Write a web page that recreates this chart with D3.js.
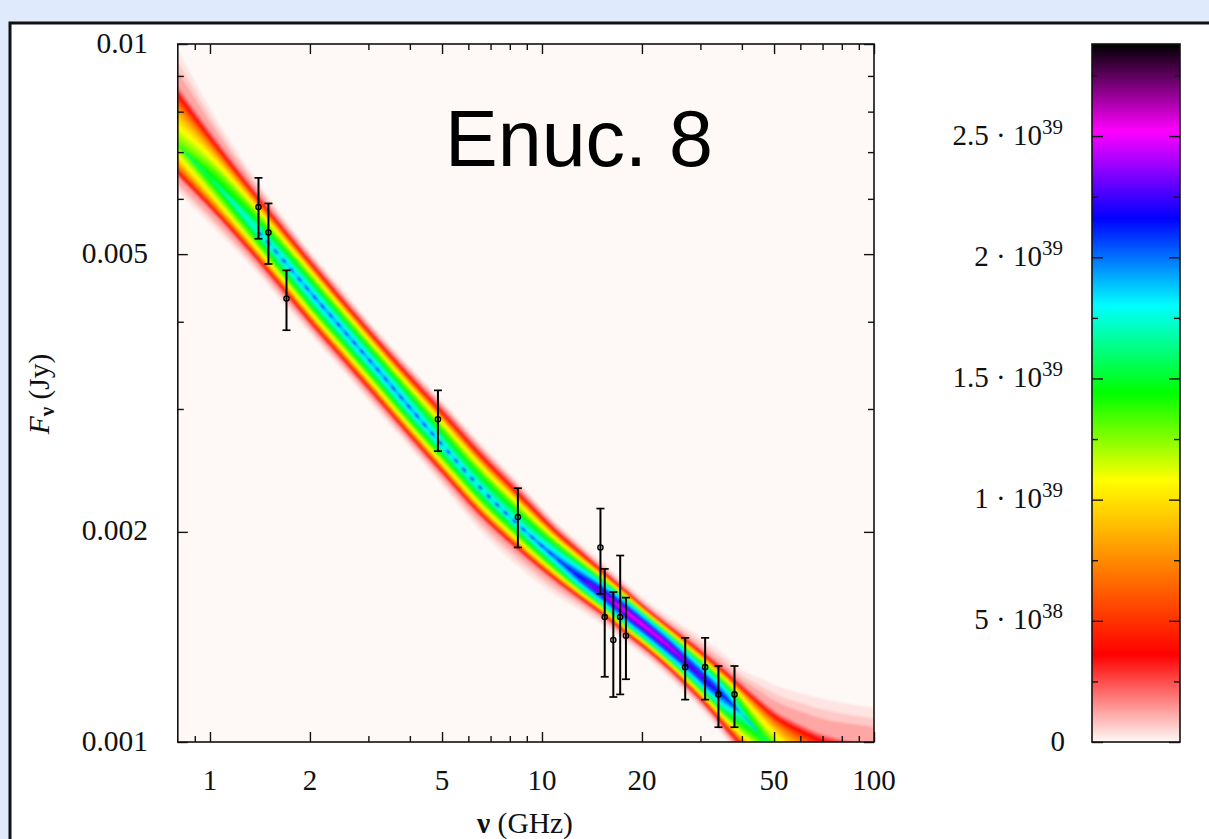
<!DOCTYPE html>
<html><head><meta charset="utf-8">
<script src="https://cdnjs.cloudflare.com/ajax/libs/d3/7.8.5/d3.min.js"></script>
<style>
html,body{margin:0;padding:0;background:#dfeafc;overflow:hidden}
svg{display:block}
text{font-family:"Liberation Serif",serif;fill:#111}
</style></head><body><svg id="c" width="1209" height="839"></svg>
<script>
// Measured spectra with error bars (GHz, Jy)
const obsNu   = [1.4,1.5,1.7,4.86,8.46,15.0,15.45,16.4,17.2,17.9,27.0,31.0,34.0,38.0];
const obsFlux = [5.84e-3,5.37e-3,4.32e-3,2.90e-3,2.10e-3,1.90e-3,1.51e-3,1.40e-3,1.51e-3,1.42e-3,1.28e-3,1.28e-3,1.17e-3,1.17e-3];
const obsHigh = [6.43e-3,5.91e-3,4.74e-3,3.19e-3,2.31e-3,2.16e-3,1.77e-3,1.64e-3,1.85e-3,1.61e-3,1.41e-3,1.41e-3,1.285e-3,1.285e-3];
const obsLow  = [5.26e-3,4.84e-3,3.89e-3,2.61e-3,1.90e-3,1.63e-3,1.24e-3,1.16e-3,1.17e-3,1.23e-3,1.15e-3,1.15e-3,1.05e-3,1.05e-3];

// Density band, log10(Jy) at each frequency
const bandNu = [0.8,1,1.4,1.7,2,2.5,3,4,5,6.5,8.5,11,13,15,18,20,24,28,32,36,40,45,50,60,70,85,100];
const bandFaintTop = [-2.009,-2.092,-2.199,-2.254,-2.297,-2.351,-2.396,-2.462,-2.511,-2.571,-2.628,-2.684,-2.715,-2.740,-2.773,-2.792,-2.820,-2.840,-2.858,-2.877,-2.897,-2.908,-2.918,-2.930,-2.938,-2.946,-2.951];
const bandTop = [-2.052,-2.120,-2.213,-2.264,-2.305,-2.360,-2.404,-2.470,-2.519,-2.579,-2.636,-2.692,-2.723,-2.749,-2.782,-2.801,-2.831,-2.855,-2.877,-2.897,-2.915,-2.934,-2.950,-2.967,-2.979,-2.986,-2.991];
const bandCentre = [-2.145,-2.192,-2.269,-2.315,-2.355,-2.408,-2.451,-2.521,-2.574,-2.635,-2.689,-2.736,-2.764,-2.785,-2.814,-2.831,-2.862,-2.891,-2.917,-2.938,-2.960,-2.987,-3.011,-3.043,-3.062,-3.083,-3.105];
const bandBottom = [-2.195,-2.241,-2.317,-2.364,-2.404,-2.456,-2.499,-2.567,-2.619,-2.679,-2.729,-2.772,-2.797,-2.818,-2.848,-2.865,-2.897,-2.928,-2.957,-2.987,-3.014,-3.043,-3.069,-3.105,-3.133,-3.169,-3.198];
const bandFaintBottom = [-2.212,-2.258,-2.330,-2.377,-2.415,-2.467,-2.511,-2.578,-2.632,-2.697,-2.749,-2.790,-2.811,-2.830,-2.858,-2.875,-2.907,-2.938,-2.967,-2.997,-3.024,-3.053,-3.079,-3.115,-3.143,-3.179,-3.208];
const bandPeak = [1.35e39,1.55e39,1.8e39,1.9e39,1.95e39,1.95e39,1.95e39,1.95e39,1.88e39,1.85e39,1.88e39,2.05e39,2.25e39,2.4e39,2.55e39,2.55e39,2.5e39,2.35e39,2.3e39,2.15e39,1.8e39,1.55e39,1.45e39,1.28e39,1.2e39,1.15e39,1.1e39];
// Cross-band profile: share of the peak density against distance from the ridge
const profileShare = [0.09,0.17,0.34,0.51,0.69,0.86,1];
const profileDistance = [1,0.87,0.75,0.64,0.46,0.22,0];
// Stretch of the ridge where the densest cells show as dark dots (GHz)
const ridgeDotsFrom = 1.4, ridgeDotsTo = 13;
const ridgeDotDensity = 2.2e39;

// Colour bar
const colourValues = [0,3.6e38,7.2e38,1.08e39,1.44e39,1.8e39,2.16e39,2.52e39,2.88e39];
const colourNames  = ["#fef9f6","#ff0000","#ff8000","#ffff00","#00ff00","#00ffff","#0000ff","#ff00ff","#000000"];
const barMajor = [0,5e38,1e39,1.5e39,2e39,2.5e39];
const barMinor = [2.5e38,7.5e38,1.25e39,1.75e39,2.25e39,2.75e39];
const barLabels = [["0",""],["5 · 10","38"],["1 · 10","39"],["1.5 · 10","39"],["2 · 10","39"],["2.5 · 10","39"]];
const densityLevels = d3.range(0.2e39,2.62e39,0.04e39);
const tailLevels = [0.03e39,0.07e39,0.12e39];
const tailReach = [1,0.62,0.3];

// Axis ticks
const xMajor = [1,2,5,10,20,50,100];
const xMinor = [0.9,3,4,6,7,8,9,30,40,60,70,80,90];
const yMajor = [0.001,0.002,0.005,0.01];
const yMinor = [0.003,0.004,0.006,0.007,0.008,0.009];
const yFormat = {0.001:"0.001",0.002:"0.002",0.005:"0.005",0.01:"0.01"};

const svg = d3.select("#c");
const L=177.8,R=874,T=44,B=742,BL=1092,BR=1180;
const x = d3.scaleLog().domain([0.8,100]).range([L,R]);
const y = d3.scaleLog().domain([0.001,0.01]).range([B,T]);
const z = d3.scaleLinear().domain([0,2.88e39]).range([B,T]);
const colour = d3.scaleLinear().domain(colourValues).range(colourNames).clamp(true);
const distance = d3.scaleLinear().domain(profileShare).range(profileDistance).clamp(true);

// panel
svg.append("rect").attr("x",10).attr("y",23).attr("width",1260).attr("height",900)
   .attr("fill","#fff").attr("stroke","#111").attr("stroke-width",3);

const defs = svg.append("defs");
defs.append("clipPath").attr("id","plot").append("rect").attr("x",L).attr("y",T).attr("width",R-L).attr("height",B-T);
const soft = defs.append("filter").attr("id","soft").attr("x","-5%").attr("y","-5%").attr("width","110%").attr("height","110%");
soft.append("feGaussianBlur").attr("stdDeviation",1.2);
const grad = defs.append("linearGradient").attr("id","bar").attr("x1",0).attr("x2",0).attr("y1",1).attr("y2",0);
colourValues.forEach((v,i)=>grad.append("stop").attr("offset",v/2.88e39).attr("stop-color",colourNames[i]));

svg.append("rect").attr("x",L).attr("y",T).attr("width",R-L).attr("height",B-T).attr("fill",colourNames[0]);

const bandG = svg.append("g").attr("clip-path","url(#plot)").append("g").attr("filter","url(#soft)");
const idx = bandNu.map((d,i)=>i);
const py = v=>y(Math.pow(10,v));
const band = (top,bot)=>d3.area().x(i=>x(bandNu[i])).y0(bot).y1(top).curve(d3.curveMonotoneX);

tailLevels.forEach((d,k)=>{
  const w=tailReach[k];
  bandG.append("path").datum(idx).attr("fill",colour(d))
    .attr("d",band(i=>py(bandTop[i]+(bandFaintTop[i]-bandTop[i])*w),
                   i=>py(bandBottom[i]+(bandFaintBottom[i]-bandBottom[i])*w)));
});
densityLevels.forEach(d=>{
  const t=i=>distance(d/bandPeak[i]);
  bandG.append("path").datum(idx).attr("fill",colour(d))
    .attr("d",band(i=>py(bandCentre[i]+(bandTop[i]-bandCentre[i])*t(i)),
                   i=>py(bandCentre[i]+(bandBottom[i]-bandCentre[i])*t(i))));
});
bandG.append("path").datum(idx.filter(i=>bandNu[i]>=ridgeDotsFrom&&bandNu[i]<=ridgeDotsTo))
  .attr("fill","none").attr("stroke",colour(ridgeDotDensity)).attr("stroke-width",2.6).attr("stroke-dasharray","5 7")
  .attr("d",d3.line().x(i=>x(bandNu[i])).y(i=>py(bandCentre[i])).curve(d3.curveMonotoneX));

// error bars
const obs = svg.append("g").attr("stroke","#000").attr("fill","none");
obsNu.forEach((n,i)=>{
  const g=obs.append("g");
  g.append("line").attr("x1",x(n)).attr("x2",x(n)).attr("y1",y(obsHigh[i])).attr("y2",y(obsLow[i])).attr("stroke-width",2);
  [obsHigh[i],obsLow[i]].forEach(v=>g.append("line").attr("x1",x(n)-4).attr("x2",x(n)+4).attr("y1",y(v)).attr("y2",y(v)).attr("stroke-width",1.7));
  g.append("circle").attr("cx",x(n)).attr("cy",y(obsFlux[i])).attr("r",2.6).attr("stroke-width",1.4);
});

// axes
function ax(gen,vals,len,tx,ty,fmt){
  const g=svg.append("g").attr("transform",`translate(${tx},${ty})`)
    .call(gen.tickValues(vals).tickSizeInner(len).tickSizeOuter(0).tickPadding(0).tickFormat(fmt||(()=>"")));
  g.select(".domain").remove();
  g.selectAll("line").attr("stroke","#111").attr("stroke-width",1.4);
  return g;
}
ax(d3.axisBottom(x),xMajor,-10,0,B);
ax(d3.axisBottom(x),xMinor,-6,0,B);
ax(d3.axisTop(x),xMajor,-10,0,T);
ax(d3.axisTop(x),xMinor,-6,0,T);
ax(d3.axisLeft(y),yMajor,-10,L,0);
ax(d3.axisLeft(y),yMinor,-6,L,0);
ax(d3.axisRight(y),yMajor,-10,R,0);
ax(d3.axisRight(y),yMinor,-6,R,0);
svg.append("rect").attr("x",L).attr("y",T).attr("width",R-L).attr("height",B-T).attr("fill","none").attr("stroke","#111").attr("stroke-width",1.6);

svg.append("g").selectAll("text").data(xMajor).join("text")
  .attr("x",d=>x(d)).attr("y",790).attr("text-anchor","middle").attr("font-size",29).text(d=>d);
svg.append("g").selectAll("text").data(yMajor).join("text")
  .attr("x",148).attr("y",d=>y(d)+8.5).attr("text-anchor","end").attr("font-size",29.5).text(d=>yFormat[d]);

// colour bar
svg.append("rect").attr("x",BL).attr("y",T).attr("width",BR-BL).attr("height",B-T).attr("fill","url(#bar)");
ax(d3.axisLeft(z),barMajor,-11,BL,0);
ax(d3.axisLeft(z),barMinor,-6,BL,0);
ax(d3.axisRight(z),barMajor,-11,BR,0);
ax(d3.axisRight(z),barMinor,-6,BR,0);
svg.append("rect").attr("x",BL).attr("y",T).attr("width",BR-BL).attr("height",B-T).attr("fill","none").attr("stroke","#111").attr("stroke-width",1.6);
barMajor.forEach((v,i)=>{
  const t=svg.append("text").attr("x",barLabels[i][1]?1063:1065).attr("y",z(v)+8.5).attr("text-anchor","end").attr("font-size",29);
  t.append("tspan").text(barLabels[i][0]);
  if(barLabels[i][1]) t.append("tspan").attr("dy",-11).attr("font-size",21).text(barLabels[i][1]);
});

// titles
const xt=svg.append("text").attr("x",525).attr("y",832.5).attr("text-anchor","middle").attr("font-size",29.5);
xt.append("tspan").attr("font-weight","bold").text("ν");
xt.append("tspan").text(" (GHz)");
const yt=svg.append("text").attr("transform","translate(49,394) rotate(-90)").attr("text-anchor","middle").attr("font-size",29.5);
yt.append("tspan").attr("font-style","italic").text("F");
yt.append("tspan").attr("dy",5).attr("font-size",21).attr("font-weight","bold").text("ν");
yt.append("tspan").attr("dy",-5).text(" (Jy)");

svg.append("text").attr("x",445).attr("y",166).attr("font-size",79)
  .style("font-family","'Liberation Sans',sans-serif").style("fill","#000").text("Enuc. 8");
</script></body></html>
